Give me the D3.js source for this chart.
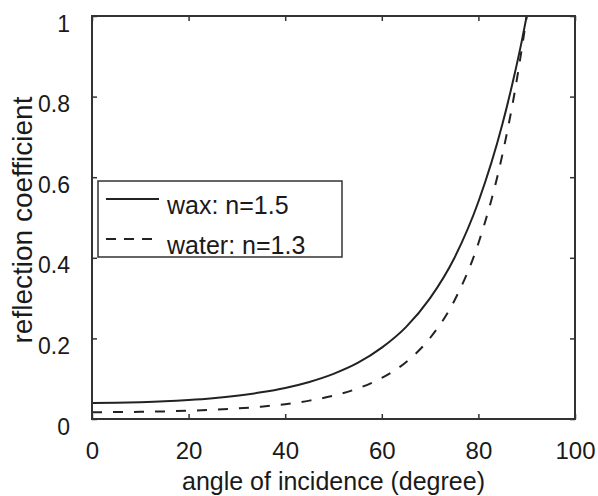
<!DOCTYPE html>
<html>
<head>
<meta charset="utf-8">
<script src="https://cdn.jsdelivr.net/npm/d3@7"></script>
<style>
  body { margin: 0; background: #fff; }
  text { font-family: "Liberation Sans", Arial, sans-serif; fill: #1a1a1a; }
</style>
</head>
<body>
<div id="chart"></div>
<script>
// angle of incidence (degree)
var angles = [0, 5, 10, 15, 20, 25, 30, 35, 40, 45, 50, 55, 60, 65, 70, 75, 80, 85, 87.5, 89, 90];
// wax: n=1.5
var wax = [0.040, 0.0404, 0.0417, 0.0438, 0.0471, 0.0516, 0.0578, 0.0661, 0.0771, 0.092, 0.112,
           0.139, 0.177, 0.228, 0.300, 0.399, 0.539, 0.733, 0.856, 0.939, 1.0];
// water: n=1.3
var water = [0.0170, 0.0172, 0.0178, 0.0189, 0.0206, 0.0229, 0.0261, 0.0306, 0.0368, 0.0456, 0.058,
             0.0758, 0.102, 0.141, 0.201, 0.293, 0.436, 0.658, 0.810, 0.920, 1.0];
var xTicks = [0, 20, 40, 60, 80, 100];
var yTicks = [0, 0.2, 0.4, 0.6, 0.8, 1];
var yTickLabels = ["0", "0.2", "0.4", "0.6", "0.8", "1"];
var legendLabels = ["wax: n=1.5", "water: n=1.3"];

var width = 598, height = 496;
var margin = {left: 92, right: 23, top: 16, bottom: 77};
var x0 = margin.left, x1 = width - margin.right;
var y0 = height - margin.bottom, y1 = margin.top;

var svg = d3.select("#chart").append("svg")
  .attr("width", width)
  .attr("height", height);

var xscale = d3.scaleLinear().domain([0, 100]).range([x0, x1]);
var yscale = d3.scaleLinear().domain([0, 1]).range([y0, y1]);

// bottom axis, inward ticks
var xaxis = svg.append("g")
  .attr("transform", "translate(0," + y0 + ")")
  .call(d3.axisBottom(xscale).tickValues(xTicks).tickSize(-5).tickSizeOuter(0).tickPadding(23));
xaxis.select(".domain").remove();
xaxis.selectAll("line").attr("stroke", "#333").attr("stroke-width", 1.5);
xaxis.selectAll("text").style("font-size", "24px").attr("fill", "#1a1a1a");

// top ticks
var xtop = svg.append("g")
  .attr("transform", "translate(0," + y1 + ")")
  .call(d3.axisTop(xscale).tickValues(xTicks).tickSize(-5).tickSizeOuter(0).tickFormat(""));
xtop.select(".domain").remove();
xtop.selectAll("line").attr("stroke", "#333").attr("stroke-width", 1.5);

// left axis
var yaxis = svg.append("g")
  .attr("transform", "translate(" + x0 + ",0)")
  .call(d3.axisLeft(yscale).tickValues(yTicks).tickSize(-5).tickSizeOuter(0).tickPadding(22)
    .tickFormat(function (d, i) { return yTickLabels[i]; }));
yaxis.select(".domain").remove();
yaxis.selectAll("line").attr("stroke", "#333").attr("stroke-width", 1.5);
yaxis.selectAll("text").style("font-size", "23px").attr("fill", "#1a1a1a").attr("dy", "0.66em");

// right ticks
var yright = svg.append("g")
  .attr("transform", "translate(" + x1 + ",0)")
  .call(d3.axisRight(yscale).tickValues(yTicks).tickSize(-5).tickSizeOuter(0).tickFormat(""));
yright.select(".domain").remove();
yright.selectAll("line").attr("stroke", "#333").attr("stroke-width", 1.5);

// curves
var line = d3.line()
  .x(function (d) { return xscale(d[0]); })
  .y(function (d) { return yscale(d[1]); })
  .curve(d3.curveMonotoneX);

svg.append("path")
  .datum(angles.map(function (a, i) { return [a, wax[i]]; }))
  .attr("fill", "none")
  .attr("stroke", "#222")
  .attr("stroke-width", 2)
  .attr("d", line);

svg.append("path")
  .datum(angles.map(function (a, i) { return [a, water[i]]; }))
  .attr("fill", "none")
  .attr("stroke", "#222")
  .attr("stroke-width", 2)
  .attr("stroke-dasharray", "10,11")
  .attr("d", line);

// frame
svg.append("rect")
  .attr("x", x0).attr("y", y1)
  .attr("width", x1 - x0).attr("height", y0 - y1)
  .attr("fill", "none")
  .attr("stroke", "#333")
  .attr("stroke-width", 2);

// legend
var legend = svg.append("g").attr("transform", "translate(98,181)");
legend.append("rect")
  .attr("width", 244).attr("height", 76)
  .attr("fill", "#fff")
  .attr("stroke", "#333")
  .attr("stroke-width", 1.5);
legendLabels.forEach(function (label, i) {
  var ly = 18 + i * 40;
  legend.append("line")
    .attr("x1", 8).attr("x2", 61)
    .attr("y1", ly).attr("y2", ly)
    .attr("stroke", "#222")
    .attr("stroke-width", 2)
    .attr("stroke-dasharray", i == 1 ? "10,8" : null);
  legend.append("text")
    .attr("x", 69).attr("y", ly + 15)
    .style("font-size", "25px")
    .text(label);
});

// axis labels
svg.append("text")
  .attr("x", (x0 + x1) / 2)
  .attr("y", 490)
  .attr("text-anchor", "middle")
  .style("font-size", "25px")
  .text("angle of incidence (degree)");

svg.append("text")
  .attr("transform", "translate(32,220) rotate(-90)")
  .attr("text-anchor", "middle")
  .style("font-size", "28px")
  .text("reflection coefficient");
</script>
</body>
</html>
